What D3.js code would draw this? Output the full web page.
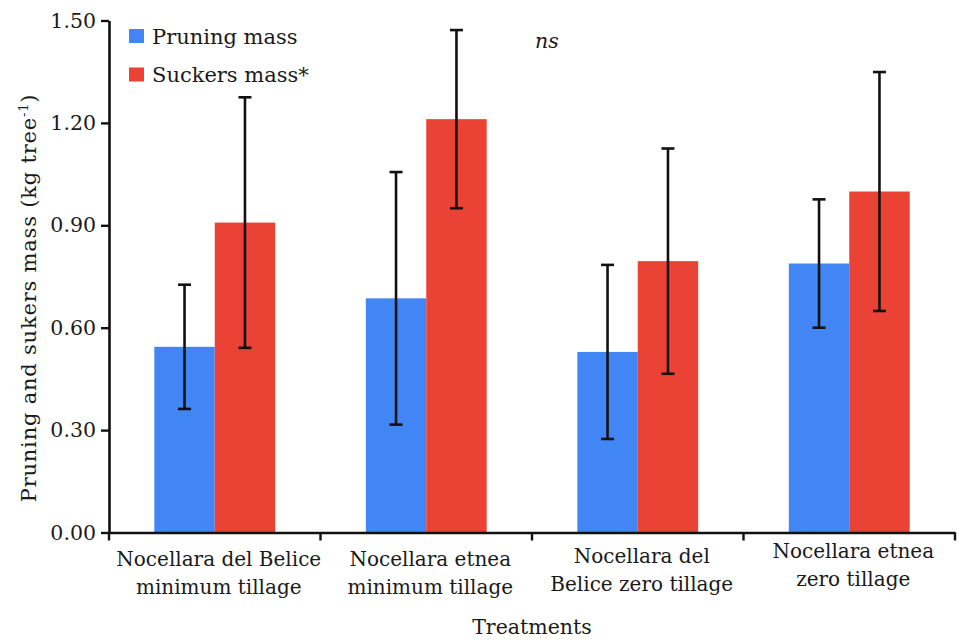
<!DOCTYPE html>
<html>
<head>
<meta charset="utf-8">
<script src="https://cdn.jsdelivr.net/npm/d3@7"></script>
<style>
  html, body { margin: 0; padding: 0; background: #fff; }
  svg { display: block; }
  text { font-family: "DejaVu Serif", "Liberation Serif", serif; fill: #1a1a1a; }
</style>
</head>
<body>
<svg id="chart" width="959" height="643"></svg>
<script>
// Treatments (x categories) and their two-line axis labels
const categories = ["NDB-MT", "NE-MT", "NDB-ZT", "NE-ZT"];
const categoryLabels = [
  ["Nocellara del Belice", "minimum tillage"],
  ["Nocellara etnea", "minimum tillage"],
  ["Nocellara del", "Belice zero tillage"],
  ["Nocellara etnea", "zero tillage"]
];

// Series
const seriesNames = ["Pruning mass", "Suckers mass*"];

// Means (kg tree-1)
const pruningMass = [0.544, 0.686, 0.529, 0.788];
const suckersMass = [0.908, 1.211, 0.795, 0.999];

// Error half-widths (kg tree-1)
const pruningErr = [0.182, 0.370, 0.255, 0.188];
const suckersErr = [0.367, 0.261, 0.330, 0.350];

// Y-axis ticks
const yTicks = [0.00, 0.30, 0.60, 0.90, 1.20, 1.50];

const colors = ["#4285F4", "#EA4335"];

const svg = d3.select("#chart");
const margin = { left: 109, right: 4, top: 20.5, bottom: 110.5 };
const W = 959, H = 643;

const x0 = d3.scaleBand()
  .domain(categories)
  .range([margin.left, W - margin.right])
  .padding(0);

const x1 = d3.scaleBand()
  .domain(seriesNames)
  .range([0, x0.bandwidth()])
  .paddingInner(0)
  .paddingOuter(0.75);

const y = d3.scaleLinear()
  .domain([0, 1.5])
  .range([H - margin.bottom, margin.top]);

const rows = categories.map((c, i) => ({
  cat: c,
  values: [
    { name: seriesNames[0], v: pruningMass[i], e: pruningErr[i], color: colors[0] },
    { name: seriesNames[1], v: suckersMass[i], e: suckersErr[i], color: colors[1] }
  ]
}));

// Bars
const groups = svg.append("g").selectAll("g")
  .data(rows)
  .join("g")
  .attr("transform", d => `translate(${x0(d.cat)},0)`);

groups.selectAll("rect")
  .data(d => d.values)
  .join("rect")
  .attr("x", d => x1(d.name))
  .attr("width", x1.bandwidth())
  .attr("y", d => y(d.v))
  .attr("height", d => y(0) - y(d.v))
  .attr("fill", d => d.color);

// Error bars
const capHalf = 6.5;
const eb = groups.selectAll("g.err")
  .data(d => d.values)
  .join("g")
  .attr("class", "err")
  .attr("stroke", "#111")
  .attr("stroke-width", 2.6);

eb.append("line")
  .attr("x1", d => x1(d.name) + x1.bandwidth() / 2)
  .attr("x2", d => x1(d.name) + x1.bandwidth() / 2)
  .attr("y1", d => y(d.v + d.e))
  .attr("y2", d => y(d.v - d.e));
eb.append("line")
  .attr("x1", d => x1(d.name) + x1.bandwidth() / 2 - capHalf)
  .attr("x2", d => x1(d.name) + x1.bandwidth() / 2 + capHalf)
  .attr("y1", d => y(d.v + d.e))
  .attr("y2", d => y(d.v + d.e));
eb.append("line")
  .attr("x1", d => x1(d.name) + x1.bandwidth() / 2 - capHalf)
  .attr("x2", d => x1(d.name) + x1.bandwidth() / 2 + capHalf)
  .attr("y1", d => y(d.v - d.e))
  .attr("y2", d => y(d.v - d.e));

// Y axis
const yAxis = svg.append("g")
  .attr("transform", `translate(${margin.left},0)`)
  .call(d3.axisLeft(y).tickValues(yTicks).tickFormat(d3.format(".2f")).tickSize(8).tickSizeOuter(0).tickPadding(5));
yAxis.select(".domain").attr("stroke", "#111").attr("stroke-width", 2.6);
yAxis.selectAll(".tick line").attr("stroke", "#111").attr("stroke-width", 2.4);
yAxis.selectAll(".tick text")
  .attr("font-family", "DejaVu Serif, serif")
  .attr("font-size", 20.5)
  .attr("fill", "#222");

// X axis: baseline with ticks at category boundaries
const xAxis = svg.append("g")
  .attr("transform", `translate(0,${y(0)})`)
  .call(d3.axisBottom(x0).tickSize(0).tickSizeOuter(0).tickFormat(""));
xAxis.select(".domain").attr("stroke", "#111").attr("stroke-width", 2.6);

const boundaries = categories.map(c => x0(c)).concat([x0.range()[1]]);
xAxis.selectAll("line.bound")
  .data(boundaries)
  .join("line")
  .attr("class", "bound")
  .attr("x1", d => d).attr("x2", d => d)
  .attr("y1", 0).attr("y2", 8)
  .attr("stroke", "#111")
  .attr("stroke-width", 2.4);

// Category labels (two lines each)
const labelShift = [0, 0, -3, -8];
const lab = svg.append("g").selectAll("text")
  .data(categories)
  .join("text")
  .attr("text-anchor", "middle")
  .attr("font-size", 20)
  .attr("fill", "#222")
  .attr("transform", (c, i) => `translate(${x0(c) + x0.bandwidth() / 2 + 4},${y(0) + 33.5 + labelShift[i]})`);
lab.each(function (c, i) {
  const t = d3.select(this);
  categoryLabels[i].forEach((line, k) => {
    t.append("tspan").attr("x", 0).attr("dy", k === 0 ? 0 : 27.5).text(line);
  });
});

// Axis titles
svg.append("text")
  .attr("x", (margin.left + W - margin.right) / 2)
  .attr("y", 634)
  .attr("text-anchor", "middle")
  .attr("font-size", 20.5)
  .attr("fill", "#222")
  .text("Treatments");

const yTitle = svg.append("text")
  .attr("transform", "translate(36,298) rotate(-90)")
  .attr("text-anchor", "middle")
  .attr("font-size", 21)
  .attr("letter-spacing", 0.8)
  .attr("fill", "#222");
yTitle.append("tspan").text("Pruning and sukers mass (kg tree");
yTitle.append("tspan").attr("font-size", 13).attr("dy", -8).text("-1");
yTitle.append("tspan").attr("dy", 8).text(")");

// Legend
const legend = svg.append("g").selectAll("g")
  .data(seriesNames)
  .join("g")
  .attr("transform", (d, i) => `translate(129,${29 + i * 38.5})`);
legend.append("rect")
  .attr("width", 15).attr("height", 14)
  .attr("fill", (d, i) => colors[i]);
legend.append("text")
  .attr("x", 23).attr("y", 14.5)
  .attr("font-size", 21)
  .attr("fill", "#222")
  .text(d => d);

// Significance note
svg.append("text")
  .attr("x", 535).attr("y", 48)
  .attr("font-size", 20.5)
  .attr("font-style", "italic")
  .attr("fill", "#222")
  .text("ns");
</script>
</body>
</html>
